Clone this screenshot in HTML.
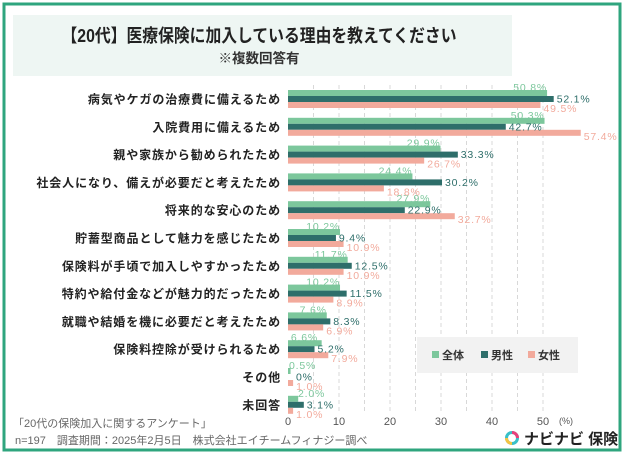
<!DOCTYPE html>
<html><head><meta charset="utf-8"><style>
html,body{margin:0;padding:0;background:#fff}
svg{display:block;font-family:"Liberation Sans","Noto Sans CJK JP",sans-serif}
</style></head><body>
<svg width="624" height="454" viewBox="0 0 624 454" xmlns="http://www.w3.org/2000/svg">
<rect x="0" y="0" width="624" height="454" fill="#fff"/>
<rect x="4" y="4" width="616" height="446" fill="none" stroke="#2fa57e" stroke-width="3"/>
<rect x="13" y="15" width="499" height="61" fill="#eef6f3"/>
<text x="259" y="42" text-anchor="middle" font-size="18" font-weight="bold" fill="#222" textLength="395" lengthAdjust="spacingAndGlyphs">【20代】医療保険に加入している理由を教えてください</text>
<text x="259" y="63" text-anchor="middle" font-size="13.5" font-weight="bold" fill="#333">※複数回答有</text>
<g stroke="#d8d8d8" stroke-dasharray="4,3" stroke-width="1">
<line x1="313.5" y1="85" x2="313.5" y2="413"/><line x1="339" y1="85" x2="339" y2="413"/>
<line x1="364.5" y1="85" x2="364.5" y2="413"/><line x1="390" y1="85" x2="390" y2="413"/>
<line x1="415.5" y1="85" x2="415.5" y2="413"/><line x1="441" y1="85" x2="441" y2="413"/>
<line x1="466.5" y1="85" x2="466.5" y2="413"/><line x1="492" y1="85" x2="492" y2="413"/>
<line x1="517.5" y1="85" x2="517.5" y2="413"/><line x1="543" y1="85" x2="543" y2="413"/>
</g>
<g font-size="12" font-weight="bold" fill="#222" text-anchor="end" letter-spacing="0.9">
<text x="281" y="103.5">病気やケガの治療費に備えるため</text>
<text x="281" y="131.3">入院費用に備えるため</text>
<text x="281" y="159.1">親や家族から勧められたため</text>
<text x="281" y="186.9">社会人になり、備えが必要だと考えたため</text>
<text x="281" y="214.7">将来的な安心のため</text>
<text x="281" y="242.5">貯蓄型商品として魅力を感じたため</text>
<text x="281" y="270.3">保険料が手頃で加入しやすかったため</text>
<text x="281" y="298.1">特約や給付金などが魅力的だったため</text>
<text x="281" y="325.9">就職や結婚を機に必要だと考えたため</text>
<text x="281" y="353.7">保険料控除が受けられるため</text>
<text x="281" y="381.5">その他</text>
<text x="281" y="409.3">未回答</text>
</g>
<g fill="#7cc79c">
<rect x="288" y="90" width="259.08" height="6"/>
<rect x="288" y="117.8" width="256.53" height="6"/>
<rect x="288" y="145.6" width="152.49" height="6"/>
<rect x="288" y="173.4" width="124.44" height="6"/>
<rect x="288" y="201.2" width="142.29" height="6"/>
<rect x="288" y="229" width="52.02" height="6"/>
<rect x="288" y="256.8" width="59.67" height="6"/>
<rect x="288" y="284.6" width="52.02" height="6"/>
<rect x="288" y="312.4" width="38.76" height="6"/>
<rect x="288" y="340.2" width="33.66" height="6"/>
<rect x="288" y="368" width="2.55" height="6"/>
<rect x="288" y="395.8" width="10.2" height="6"/>
</g>
<g fill="#2e6e6a">
<rect x="288" y="96" width="265.71" height="6"/>
<rect x="288" y="123.8" width="217.77" height="6"/>
<rect x="288" y="151.6" width="169.83" height="6"/>
<rect x="288" y="179.4" width="154.02" height="6"/>
<rect x="288" y="207.2" width="116.79" height="6"/>
<rect x="288" y="235" width="47.94" height="6"/>
<rect x="288" y="262.8" width="63.75" height="6"/>
<rect x="288" y="290.6" width="58.65" height="6"/>
<rect x="288" y="318.4" width="42.33" height="6"/>
<rect x="288" y="346.2" width="26.52" height="6"/>
<rect x="288" y="401.8" width="15.81" height="6"/>
</g>
<g fill="#f2aa9c">
<rect x="288" y="102" width="252.45" height="6"/>
<rect x="288" y="129.8" width="292.74" height="6"/>
<rect x="288" y="157.6" width="136.17" height="6"/>
<rect x="288" y="185.4" width="95.88" height="6"/>
<rect x="288" y="213.2" width="166.77" height="6"/>
<rect x="288" y="241" width="55.59" height="6"/>
<rect x="288" y="268.8" width="55.59" height="6"/>
<rect x="288" y="296.6" width="45.39" height="6"/>
<rect x="288" y="324.4" width="35.19" height="6"/>
<rect x="288" y="352.2" width="40.29" height="6"/>
<rect x="288" y="380" width="5.1" height="6"/>
<rect x="288" y="407.8" width="5.1" height="6"/>
</g>
<g font-size="10.5" fill="#7cc79c" letter-spacing="0.8" text-anchor="end">
<text x="547" y="91">50.8%</text>
<text x="544.5" y="118.8">50.3%</text>
<text x="440.5" y="146.6">29.9%</text>
<text x="412.4" y="174.4">24.4%</text>
<text x="430.3" y="202.2">27.9%</text>
<text x="340" y="230">10.2%</text>
<text x="347.7" y="257.8">11.7%</text>
<text x="340" y="285.6">10.2%</text>
<text x="326.8" y="313.4">7.6%</text>
<text x="318" y="341.2">6.6%</text>
</g>
<g font-size="10.5" fill="#7cc79c" letter-spacing="0.8">
<text x="289" y="369">0.5%</text>
<text x="298" y="396.8">2.0%</text>
</g>
<g font-size="10.5" fill="#2e6e6a" letter-spacing="0.8">
<text x="556.7" y="102.5">52.1%</text>
<text x="508.8" y="130.3">42.7%</text>
<text x="460.8" y="158.1">33.3%</text>
<text x="445" y="185.9">30.2%</text>
<text x="407.8" y="213.7">22.9%</text>
<text x="338.9" y="241.5">9.4%</text>
<text x="354.8" y="269.3">12.5%</text>
<text x="349.7" y="297.1">11.5%</text>
<text x="333.3" y="324.9">8.3%</text>
<text x="317.5" y="352.7">5.2%</text>
<text x="296" y="380.5">0%</text>
<text x="306.8" y="408.3">3.1%</text>
</g>
<g font-size="10.5" fill="#f2aa9c" letter-spacing="0.8">
<text x="543.5" y="112">49.5%</text>
<text x="583.7" y="139.8">57.4%</text>
<text x="427.2" y="167.6">26.7%</text>
<text x="386.9" y="195.4">18.8%</text>
<text x="457.8" y="223.2">32.7%</text>
<text x="346.6" y="251">10.9%</text>
<text x="346.6" y="278.8">10.9%</text>
<text x="336.4" y="306.6">8.9%</text>
<text x="326.2" y="334.4">6.9%</text>
<text x="331.3" y="362.2">7.9%</text>
<text x="296.1" y="390">1.0%</text>
<text x="296.1" y="417.8">1.0%</text>
</g>
<g font-size="11" fill="#555" text-anchor="middle">
<text x="288" y="425">0</text><text x="339" y="425">10</text><text x="390" y="425">20</text>
<text x="441" y="425">30</text><text x="492" y="425">40</text><text x="543" y="425">50</text>
<text x="566" y="424" font-size="9">(%)</text>
</g>
<rect x="417" y="337" width="161" height="36" fill="#f2f2f2"/>
<g font-size="11" font-weight="bold" fill="#333">
<rect x="432" y="351" width="7" height="7" fill="#7cc79c"/><text x="442" y="359">全体</text>
<rect x="481" y="351" width="7" height="7" fill="#2e6e6a"/><text x="491" y="359">男性</text>
<rect x="528" y="351" width="7" height="7" fill="#f2aa9c"/><text x="538" y="359">女性</text>
</g>
<g font-size="11" fill="#666">
<text x="13" y="427">「20代の保険加入に関するアンケート」</text>
<text x="15" y="444">n=197　調査期間：2025年2月5日　株式会社エイチームフィナジー調べ</text>
</g>
<circle cx="512" cy="438" r="5.5" fill="none" stroke="#39c0c8" stroke-width="3"/>
<path d="M512 432.5 A5.5 5.5 0 0 1 517.5 438" fill="none" stroke="#e8407a" stroke-width="3"/>
<path d="M506.5 438 A5.5 5.5 0 0 0 512 443.5" fill="none" stroke="#f5c342" stroke-width="3"/>
<text x="524" y="444" font-size="15" font-weight="bold" fill="#222">ナビナビ 保険</text>
</svg>
</body></html>
